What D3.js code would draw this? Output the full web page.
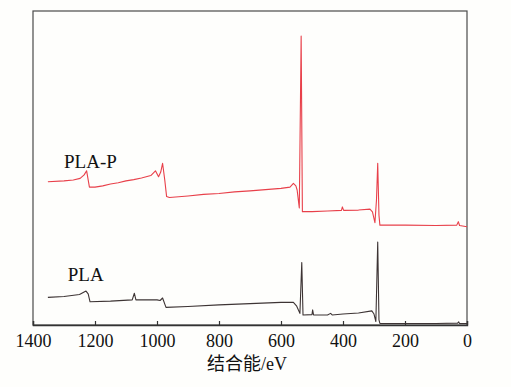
<!DOCTYPE html>
<html>
<head>
<meta charset="utf-8">
<script src="https://cdn.jsdelivr.net/npm/d3@7/dist/d3.min.js"></script>
<style>
  html, body { margin: 0; padding: 0; background: #fefefc; }
  svg { display: block; }
</style>
</head>
<body>
<svg id="chart" width="511" height="387"></svg>
<script>
// Binding energy (eV) and intensity (a.u.)
const plaPEnergy = [1352, 1300, 1270, 1248, 1235, 1227, 1218, 1200, 1175, 1150, 1125, 1100, 1075, 1050, 1020, 1012, 1005, 995, 988, 982, 975, 969, 960, 900, 850, 800, 750, 700, 650, 600, 571, 560, 552, 548, 541, 535, 531, 500, 450, 405, 402, 398, 350, 313, 305, 297, 292, 288, 284, 281, 200, 100, 33, 28, 24, 0];
const plaPValue  = [45.6, 45.9, 46.2, 46.7, 47.8, 49.1, 43.9, 43.9, 44.3, 44.9, 45.3, 45.9, 46.3, 46.8, 47.6, 48.4, 49.1, 47.2, 48.7, 51.5, 46.2, 40.9, 40.6, 41.1, 41.6, 41.9, 42.4, 42.7, 43.1, 43.5, 43.9, 45.1, 44.3, 43.0, 37.3, 92.0, 36.1, 36.1, 36.3, 36.5, 37.6, 36.5, 36.6, 36.9, 36.0, 32.6, 39.8, 51.5, 35.0, 31.8, 31.8, 31.7, 31.8, 32.9, 31.7, 31.3];

const plaEnergy = [1352, 1300, 1250, 1229, 1222, 1216, 1150, 1080, 1073, 1068, 1000, 990, 982, 971, 900, 800, 700, 600, 560, 550, 539, 533, 529, 500, 498, 495, 450, 440, 435, 400, 350, 307, 300, 294, 288, 284, 281, 200, 100, 30, 27, 24, 0];
const plaValue  = [8.8, 9.1, 9.7, 10.8, 9.9, 7.4, 7.6, 8.0, 10.1, 8.0, 8.0, 7.8, 8.6, 5.6, 5.9, 6.4, 6.8, 7.2, 7.2, 6.1, 3.7, 19.9, 3.2, 3.3, 4.8, 3.2, 3.2, 3.7, 3.2, 3.5, 3.8, 4.5, 3.5, 1.1, 26.4, 1.6, 0.5, 0.5, 0.5, 0.6, 1.0, 0.5, 0.5];

const xTicks = [1400, 1200, 1000, 800, 600, 400, 200, 0];
const seriesNames = ["PLA-P", "PLA"];
const seriesColors = ["#e8404a", "#3d3434"];
const xTitle = "结合能/eV";

const svg = d3.select("#chart");
const L = 33, R = 467, T = 11, B = 325;

const x = d3.scaleLinear().domain([1400, 0]).range([L, R]);
const y = d3.scaleLinear().domain([0, 100]).range([B, T]);

// frame
svg.append("rect")
  .attr("x", L).attr("y", T).attr("width", R - L).attr("height", B - T)
  .attr("fill", "none").attr("stroke", "#4a4a4a").attr("stroke-width", 1.2);

// bottom axis with inward ticks
const xAxis = d3.axisBottom(x).tickValues(xTicks).tickSize(-4).tickPadding(8).tickFormat(d3.format("d"));
const gx = svg.append("g").attr("transform", `translate(0,${B})`).call(xAxis);
gx.select(".domain").attr("stroke", "#333").attr("stroke-width", 1.4);
gx.selectAll(".tick line").attr("stroke", "#333").attr("stroke-width", 1.2);
gx.selectAll(".tick text")
  .attr("font-family", "'Liberation Serif', 'Times New Roman', serif")
  .attr("font-size", 18).attr("fill", "#111").attr("dy", "0.75em").attr("y", 8);

const line = d3.line().x(d => x(d[0])).y(d => y(d[1]));

const series = [
  d3.zip(plaPEnergy, plaPValue),
  d3.zip(plaEnergy, plaValue)
];

series.forEach((s, i) => {
  svg.append("path")
    .datum(s)
    .attr("d", line)
    .attr("fill", "none")
    .attr("stroke", seriesColors[i])
    .attr("stroke-width", 1.1)
    .attr("stroke-linejoin", "round");
});

// series labels
svg.append("text")
  .attr("x", x(1300)).attr("y", y(50.1))
  .attr("font-family", "'Liberation Serif', 'Times New Roman', serif")
  .attr("font-size", 19).attr("fill", "#111")
  .text(seriesNames[0]);
svg.append("text")
  .attr("x", x(1288)).attr("y", y(14.1))
  .attr("font-family", "'Liberation Serif', 'Times New Roman', serif")
  .attr("font-size", 19).attr("fill", "#111")
  .text(seriesNames[1]);

// axis title
svg.append("text")
  .attr("x", 247).attr("y", 370)
  .attr("text-anchor", "middle")
  .attr("font-family", "'Liberation Serif', 'Noto Sans CJK SC', serif")
  .attr("font-size", 18).attr("fill", "#111")
  .text(xTitle);
</script>
</body>
</html>
